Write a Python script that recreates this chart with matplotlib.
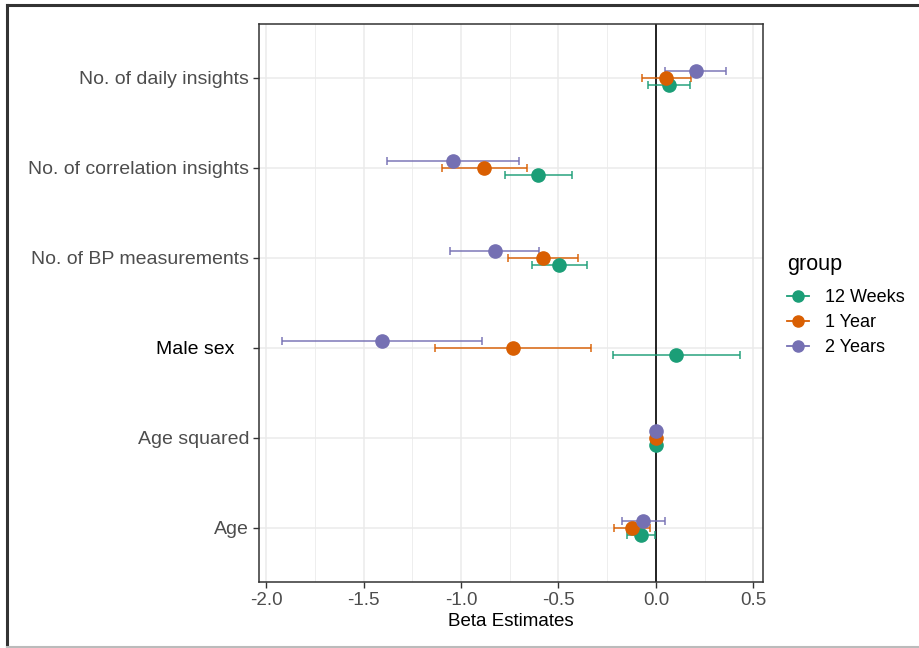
import numpy as np
import matplotlib
matplotlib.use('Agg')
import matplotlib.pyplot as plt
from matplotlib.lines import Line2D
from matplotlib.transforms import ScaledTranslation

plt.rcParams['font.family'] = ['Liberation Sans', 'DejaVu Sans']

# predictors, bottom to top
predictors = ['Age', 'Age squared', 'Male sex', 'No. of BP measurements',
              'No. of correlation insights', 'No. of daily insights']
groups = ['12 Weeks', '1 Year', '2 Years']
colors = ['#1B9E77', '#D95F02', '#7570B3']

# beta estimates and confidence limits per group (same order as predictors)
est_12w = [-0.077, 0.0, 0.104, -0.497, -0.603, 0.067]
lo_12w = [-0.147, -0.004, -0.222, -0.638, -0.774, -0.041]
hi_12w = [-0.005, 0.004, 0.431, -0.354, -0.429, 0.174]

est_1y = [-0.121, 0.0, -0.733, -0.581, -0.882, 0.053]
lo_1y = [-0.215, -0.004, -1.135, -0.757, -1.099, -0.072]
hi_1y = [-0.031, 0.004, -0.333, -0.398, -0.663, 0.178]

est_2y = [-0.065, 0.0, -1.405, -0.827, -1.041, 0.204]
lo_2y = [-0.174, -0.004, -1.920, -1.058, -1.379, 0.048]
hi_2y = [0.045, 0.004, -0.894, -0.598, -0.701, 0.360]

estimates = [est_12w, est_1y, est_2y]
lows = [lo_12w, lo_1y, lo_2y]
highs = [hi_12w, hi_1y, hi_2y]
offsets = [-0.083, 0.0, 0.083]

fig = plt.figure(figsize=(9.2, 6.48), dpi=100)
W, H = 920, 648
ax = fig.add_axes([259 / W, (H - 582) / H, (763 - 259) / W, (582 - 24) / H])

y = np.arange(len(predictors))
for est, lo, hi, col, off in zip(estimates, lows, highs, colors, offsets):
    est = np.array(est)
    err = np.vstack([est - np.array(lo), np.array(hi) - est])
    ax.errorbar(est, y + off, xerr=err, fmt='none', ecolor=col,
                elinewidth=1.3, capsize=2.6, capthick=1.3, alpha=0.8, zorder=3)
    ax.plot(est, y + off, 'o', color=col, markersize=9.5, zorder=4)

ax.axvline(0, color='#222222', lw=1.4, zorder=2)

ax.set_xlim(-2.036, 0.549)
ax.set_ylim(-0.6, len(predictors) - 0.4)
ax.set_xticks([-2.0, -1.5, -1.0, -0.5, 0.0, 0.5])
ax.set_xticklabels(['-2.0', '-1.5', '-1.0', '-0.5', '0.0', '0.5'])
ax.set_xticks(np.arange(-1.75, 0.5, 0.5), minor=True)
ax.set_yticks(y)
ax.set_yticklabels(predictors)

ax.grid(True, which='major', color='#EBEBEB', lw=1.1, zorder=0)
ax.grid(True, which='minor', axis='x', color='#EBEBEB', lw=0.6, zorder=0)
ax.set_axisbelow(True)
ax.tick_params(which='minor', length=0)
ax.tick_params(which='major', length=4, width=1, color='#333333',
               labelcolor='#4D4D4D', labelsize=13.5, pad=3)
ax.tick_params(axis='y', labelsize=14)
for s in ax.spines.values():
    s.set_color('#333333')
    s.set_linewidth(1.1)

# "Male sex" label stands out in the original
for lab in ax.get_yticklabels():
    if lab.get_text() == 'Male sex':
        lab.set_color('black')
        lab.set_transform(lab.get_transform() + ScaledTranslation(-0.15, 0, fig.dpi_scale_trans))

ax.set_xlabel('Beta Estimates', fontsize=13.5, labelpad=3, color='black')

handles = [Line2D([], [], color=c, marker='o', markersize=8, lw=1.3) for c in colors]
leg = fig.legend(handles, groups, title='group', loc='upper left',
                 bbox_to_anchor=(771 / W, 1 - 238 / H), frameon=False,
                 fontsize=13, title_fontsize=15.5, handlelength=1.2,
                 handletextpad=0.9, labelspacing=0.45, alignment='left')
leg._legend_box.sep = 10

# outer frame of the picture
fig.add_artist(Line2D([7 / W, 7 / W], [0, 1 - 5 / H], color='#333333', lw=2.2, transform=fig.transFigure))
fig.add_artist(Line2D([7 / W, 1], [1 - 5 / H, 1 - 5 / H], color='#333333', lw=2.2, transform=fig.transFigure))
fig.add_artist(Line2D([7 / W, 1], [1.5 / H, 1.5 / H], color='#BBBBBB', lw=1.5, transform=fig.transFigure))

fig.savefig('out.png', dpi=100)
